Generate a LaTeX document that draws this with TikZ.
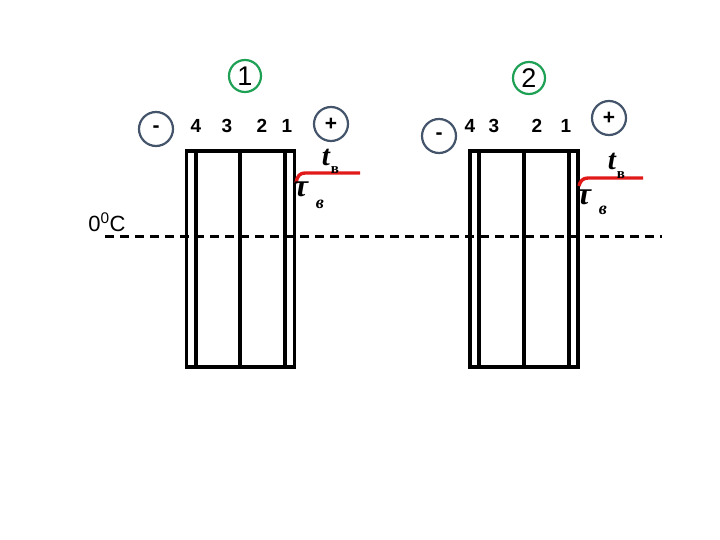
\documentclass[tikz,border=0pt]{standalone}
\usepackage{fontspec}
\setmainfont{Liberation Sans}
\newfontfamily\serifbi{Liberation Serif}
\definecolor{cgreen}{RGB}{30,160,85}
\definecolor{cblue}{RGB}{68,84,106}
\definecolor{cred}{RGB}{225,25,25}
\begin{document}
\begin{tikzpicture}[x=1pt,y=-1pt,
  wall/.style={draw,line width=3.2pt,minimum width=108pt,minimum height=216pt,inner sep=0pt},
  gcirc/.style={circle,draw=cgreen,line width=2.2pt,minimum size=32pt,inner sep=0pt,font=\fontsize{27}{27}\selectfont},
  bcirc/.style={circle,draw=cblue,line width=2.2pt,minimum size=34pt,inner sep=0pt,font=\fontsize{21}{21}\selectfont\bfseries},
  num/.style={font=\fontsize{19}{19}\selectfont\bfseries,inner sep=0pt},
  tl/.style={font=\serifbi\fontsize{29}{29}\selectfont\bfseries\itshape,inner sep=0pt},
  tau/.style={font=\serifbi\fontsize{32}{32}\selectfont\bfseries\itshape,inner sep=0pt},
  sub/.style={font=\serifbi\fontsize{15}{15}\selectfont\bfseries,inner sep=0pt},
  subi/.style={font=\serifbi\fontsize{18}{18}\selectfont\bfseries\itshape,inner sep=0pt},
  redl/.style={draw=cred,line width=3.4pt}]
\useasboundingbox (0,0) rectangle (720,540);
% zero line
\coordinate (zl) at (105,236);
\coordinate (zr) at (662,236);
\draw[line width=3pt,dash pattern=on 9pt off 6pt] (zl) -- (zr);
\node[font=\fontsize{22}{22}\selectfont,inner sep=0pt] (zero) at (107,222) {0\textsuperscript{0}C};
% wall 1
\node[wall] (w1) at (240.5,259) {};
\draw[line width=3.2pt] (196,151) -- (196,367) (240,151) -- (240,367) (285,151) -- (285,367);
\node[gcirc] (c1) at (245,76) {1};
\node[bcirc] (m1) at (156,129) {-};
\node[bcirc] (p1) at (331,124) {+};
\node[num] (n14) at (196,126) {4};
\node[num] (n13) at (227,126) {3};
\node[num] (n12) at (262,126) {2};
\node[num] (n11) at (287,126) {1};
\coordinate (r1a) at (296,183);
\coordinate (r1b) at (360,173);
\draw[redl] (r1a) .. controls (297,176) and (300,173) .. (305,173) -- (r1b);
\node[tl] (t1) at (326,157) {t};
\node[sub] (tb1) at (335,170) {в};
\node[tau] (tau1) at (301,189) {τ};
\node[subi] (v1) at (320,204) {в};
% wall 2
\node[wall] (w2) at (524,259) {};
\draw[line width=3.2pt] (479,151) -- (479,367) (524,151) -- (524,367) (569,151) -- (569,367);
\node[gcirc] (c2) at (529,78) {2};
\node[bcirc] (m2) at (439,136) {-};
\node[bcirc] (p2) at (609,118) {+};
\node[num] (n24) at (470,126) {4};
\node[num] (n23) at (494,126) {3};
\node[num] (n22) at (537,126) {2};
\node[num] (n21) at (566,126) {1};
\coordinate (r2a) at (579,186);
\coordinate (r2b) at (643,178);
\draw[redl] (r2a) .. controls (580,181) and (583,178) .. (588,178) -- (r2b);
\node[tl] (t2) at (612,161) {t};
\node[sub] (tb2) at (621,175) {в};
\node[tau] (tau2) at (584,197) {τ};
\node[subi] (v2) at (603,210) {в};
\end{tikzpicture}
\end{document}
